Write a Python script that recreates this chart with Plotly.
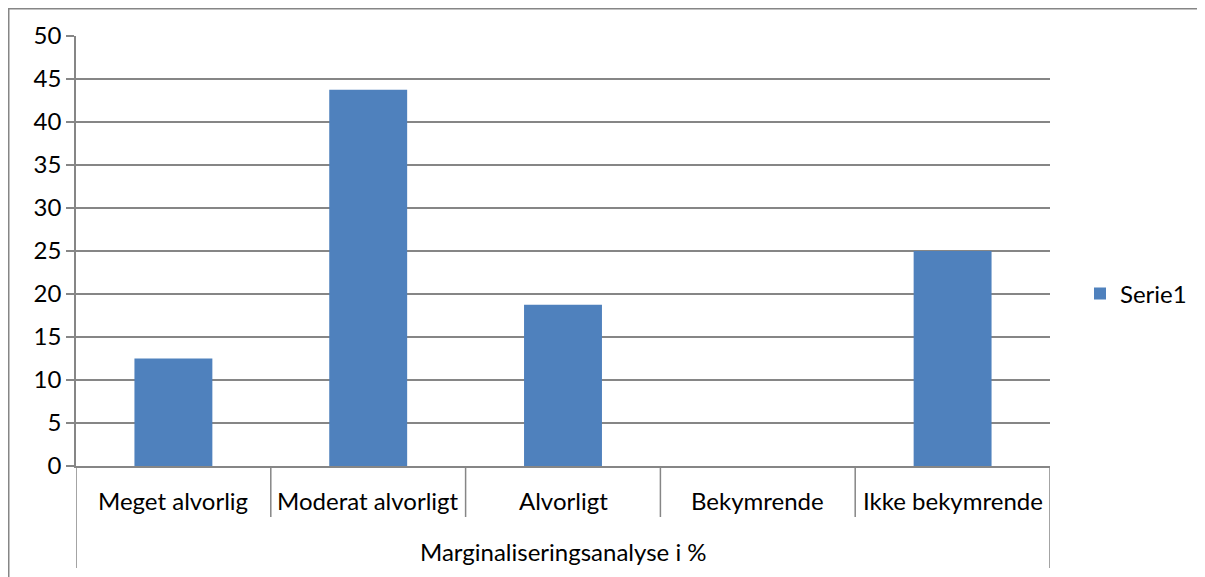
import plotly.graph_objects as go

# data
categories = ["Meget alvorlig", "Moderat alvorligt", "Alvorligt", "Bekymrende", "Ikke bekymrende"]
values = [12.5, 43.75, 18.75, 0, 25]
series_name = "Serie1"
group_label = "Marginaliseringsanalyse i %"
y_ticks = list(range(0, 55, 5))

# the page puts the figure 8px in from the top left corner
OFF = 8
W, H = 1205 - OFF, 577 - OFF
L, R, T, B = 76 - OFF, 155, 36 - OFF, 111
plot_w = W - L - R
plot_h = H - T - B
grid = "#868686"
font = "Lato"
fsize = 24

fig = go.Figure(go.Bar(
    x=list(range(len(categories))), y=values, name=series_name,
    marker=dict(color="#4F81BD", line=dict(width=0)),
    showlegend=True
))

shapes = []
# category dividers under the axis
for i in range(len(categories) + 1):
    outer = i == 0 or i == len(categories)
    shapes.append(dict(type="line", xref="x", yref="paper",
                       x0=i - 0.5, x1=i - 0.5, y0=0,
                       y1=-(102 if outer else 51) / plot_h,
                       line=dict(color=grid, width=1.5)))
# chart frame (runs off the picture at right and bottom)
shapes.append(dict(type="rect", xref="paper", yref="paper",
                   x0=(0.75 - L) / plot_w, x1=(W + 20 - L) / plot_w,
                   y0=-(B + 20) / plot_h, y1=(plot_h + T - 0.75) / plot_h,
                   line=dict(color=grid, width=1.5), layer="below"))

annotations = [dict(x=i, y=-34 / plot_h, xref="x", yref="paper", text=c,
                    showarrow=False, yanchor="middle",
                    font=dict(size=fsize, color="black", family=font))
               for i, c in enumerate(categories)]
annotations.append(dict(x=0.5, y=-85 / plot_h, xref="paper", yref="paper", text=group_label,
                        showarrow=False, yanchor="middle",
                        font=dict(size=fsize, color="black", family=font)))

fig.update_layout(
    width=W, height=H,
    margin=dict(l=L, r=R, t=T, b=B, autoexpand=False),
    paper_bgcolor="white", plot_bgcolor="white",
    font=dict(family=font, size=fsize, color="black"),
    bargap=0.6,
    shapes=shapes,
    annotations=annotations,
    legend=dict(x=(1080 - OFF - L) / plot_w, y=0.4, xanchor="left", yanchor="middle",
                font=dict(size=fsize), itemwidth=30),
    xaxis=dict(range=[-0.5, len(categories) - 0.5], showticklabels=False, ticks="",
               showgrid=False, zeroline=False, showline=True, linecolor=grid, linewidth=1.5),
    yaxis=dict(range=[0, 50], tickvals=y_ticks, ticks="outside", ticklen=8,
               tickcolor=grid, tickwidth=1.5, showgrid=True, gridcolor=grid, gridwidth=1.5,
               showline=True, linecolor=grid, linewidth=1.5, zeroline=False,
               tickfont=dict(size=fsize), ticklabelstandoff=0),
)

fig.write_html("out.html")
